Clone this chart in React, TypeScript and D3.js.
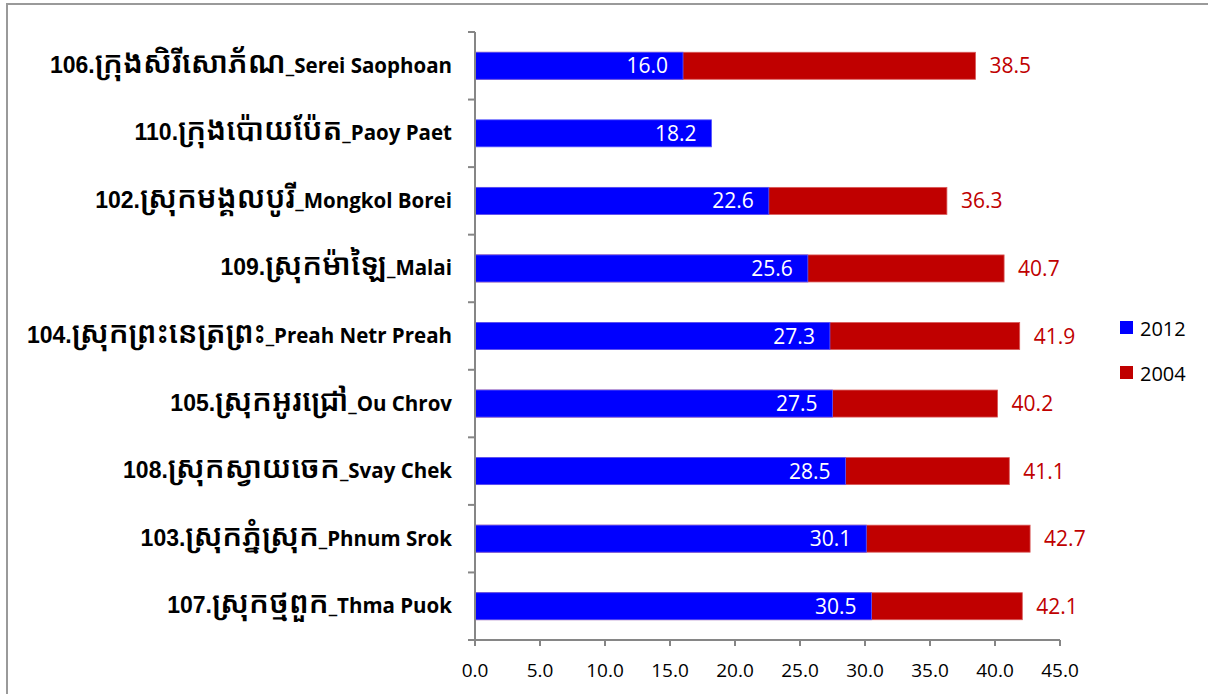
import React from "react";
import * as d3 from "d3";

const codes: string[] = ["106.", "110.", "102.", "109.", "104.", "105.", "108.", "103.", "107."];
const khmerNames: string[] = [
  "ក្រុងសិរីសោភ័ណ",
  "ក្រុងប៉ោយប៉ែត",
  "ស្រុកមង្គលបូរី",
  "ស្រុកម៉ាឡៃ",
  "ស្រុកព្រះនេត្រព្រះ",
  "ស្រុកអូរជ្រៅ",
  "ស្រុកស្វាយចេក",
  "ស្រុកភ្នំស្រុក",
  "ស្រុកថ្មពួក",
];
const latinNames: string[] = [
  "_Serei Saophoan",
  "_Paoy Paet",
  "_Mongkol Borei",
  "_Malai",
  "_Preah Netr Preah",
  "_Ou Chrov",
  "_Svay Chek",
  "_Phnum Srok",
  "_Thma Puok",
];
const values2012: number[] = [16.0, 18.2, 22.6, 25.6, 27.3, 27.5, 28.5, 30.1, 30.5];
const values2004: (number | null)[] = [38.5, null, 36.3, 40.7, 41.9, 40.2, 41.1, 42.7, 42.1];
const xTicks: number[] = [0, 5, 10, 15, 20, 25, 30, 35, 40, 45];
const seriesNames: string[] = ["2012", "2004"];

const W = 1208;
const H = 694;
const BLUE = "#0000FF";
const RED = "#C00000";
const AXIS = "#868686";

export default function App() {
  const x = d3.scaleLinear().domain([0, 45]).range([475, 1060]);
  const ids = d3.range(khmerNames.length).map(String);
  const y = d3.scaleBand<string>().domain(ids).range([32, 640]).paddingInner(0).paddingOuter(0);
  const band = y.bandwidth();
  const barH = band * 0.4;
  const fmt = d3.format(".1f");
  const boundaries = d3.range(khmerNames.length + 1).map((i) => 32 + i * band);

  return (
    <svg
      width={W}
      height={H}
      style={{ position: "absolute", left: 0, top: 0, background: "#fff" }}
      fontFamily="'Open Sans', sans-serif"
    >
      <rect x={7} y={4} width={W + 10} height={H + 10} fill="#fff" stroke="#9a9a9a" strokeWidth={2} />

      {/* bars */}
      {ids.map((id, i) => {
        const yc = (y(id) as number) + band / 2;
        const v04 = values2004[i];
        const v12 = values2012[i];
        return (
          <g key={id}>
            {v04 != null && (
              <rect
                x={x(0)}
                y={yc - barH / 2}
                width={x(v04) - x(0)}
                height={barH}
                fill={RED}
                stroke="#d95a5a"
                strokeWidth={0.8}
              />
            )}
            <rect
              x={x(0)}
              y={yc - barH / 2}
              width={x(v12) - x(0)}
              height={barH}
              fill={BLUE}
              stroke="#5a5aff"
              strokeWidth={0.8}
            />
            <text x={x(v12) - 15} y={yc + 7.5} textAnchor="end" fill="#fff" fontSize={21}>
              {fmt(v12)}
            </text>
            {v04 != null && (
              <text x={x(v04) + 14} y={yc + 7.5} fill={RED} fontSize={21}>
                {fmt(v04)}
              </text>
            )}
            <text x={452} y={yc + 7} textAnchor="end" fill="#000">
              <tspan fontFamily="'Liberation Sans', Arial, sans-serif" fontSize={23} fontWeight="bold">
                {codes[i]}
              </tspan>
              <tspan fontFamily="'Noto Sans Khmer', 'Noto Sans', sans-serif" fontSize={30} fontWeight={600}>
                {khmerNames[i]}
              </tspan>
              <tspan fontFamily="'Open Sans', sans-serif" fontWeight="bold" fontSize={20.5}>
                {latinNames[i]}
              </tspan>
            </text>
          </g>
        );
      })}

      {/* y axis */}
      <line x1={x(0)} x2={x(0)} y1={32} y2={640} stroke={AXIS} strokeWidth={2} />
      {boundaries.map((b, i) => (
        <line key={i} x1={x(0) - 7} x2={x(0)} y1={b} y2={b} stroke={AXIS} strokeWidth={2} />
      ))}

      {/* x axis */}
      <line x1={x(0) - 7} x2={x(45)} y1={640} y2={640} stroke={AXIS} strokeWidth={2} />
      {xTicks.map((t) => (
        <g key={t}>
          <line x1={x(t)} x2={x(t)} y1={640} y2={646} stroke={AXIS} strokeWidth={2} />
          <text x={x(t)} y={677} textAnchor="middle" fontSize={19} fill="#000">
            {fmt(t)}
          </text>
        </g>
      ))}

      {/* legend */}
      {seriesNames.map((s, i) => (
        <g key={s} transform={`translate(1120, ${321 + i * 45})`}>
          <rect x={0} y={0} width={13} height={13} fill={i === 0 ? BLUE : RED} />
          <text x={20} y={15} fontSize={20} fill="#000">
            {s}
          </text>
        </g>
      ))}
    </svg>
  );
}
